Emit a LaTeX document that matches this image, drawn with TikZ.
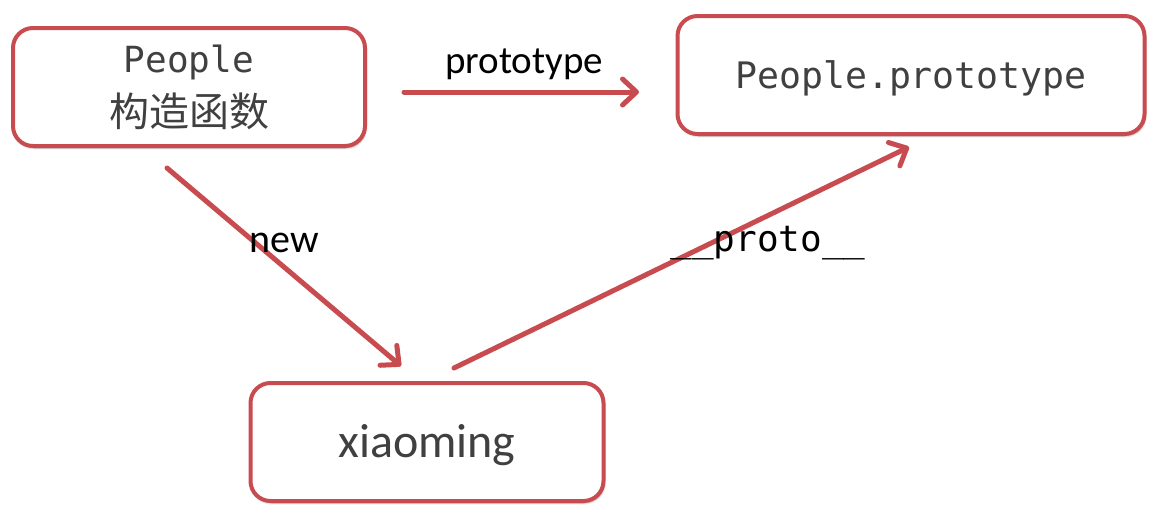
\documentclass[tikz,border=0pt]{standalone}
\usepackage{fontspec}
\setmainfont{Carlito}
\setmonofont{DejaVu Sans Mono}
\newfontfamily\cjk{Noto Sans CJK SC}
\usetikzlibrary{arrows.meta,shadows.blur}
\definecolor{boxred}{RGB}{200,75,80}
\definecolor{txtgray}{RGB}{64,64,64}
\tikzset{
  box/.style={draw=boxred, line width=4pt, fill=white, rounded corners=20pt,
    rectangle, minimum height=118pt, align=center, text=txtgray,
    blur shadow={shadow blur steps=6, shadow xshift=1pt, shadow yshift=-2pt, shadow opacity=35}},
  arr/.style={draw=boxred, line width=5pt, line cap=round,
    -{Straight Barb[length=14pt, width=26pt, line cap=round, line join=round]}},
  lbl/.style={text=black, inner sep=0pt}
}
\begin{document}
\begin{tikzpicture}[x=1pt,y=-1pt]
\useasboundingbox (0,0) rectangle (1162,517);
\node[box, minimum width=352pt, font=\fontsize{36}{44}\selectfont] (ctor) at (189,87)
  {\ttfamily People\\[10pt]{\fontsize{40}{44}\selectfont\cjk 构造函数}};
\node[box, minimum width=467pt, text height=36pt, text depth=9pt] (proto) at (911,75)
  {\fontsize{36.5}{44}\selectfont\ttfamily People.prototype};
\node[box, minimum width=353pt, text height=40pt, text depth=10pt] (xm) at (427,442)
  {\fontsize{48}{52}\selectfont xiaoming};
\coordinate (p1) at (404,92);
\coordinate (p2) at (639,92);
\coordinate (n1) at (167,168);
\coordinate (n2) at (401,366);
\coordinate (q1) at (454,368);
\coordinate (q2) at (909,147);
\draw[arr] (p1) -- (p2);
\draw[arr] (n1) -- (n2);
\draw[arr] (q1) -- (q2);
\node[lbl, font=\fontsize{39}{42}\selectfont] (lp) at (524,64) {prototype};
\node[lbl, font=\fontsize{40}{44}\selectfont] (ln) at (284,243) {new};
\node[lbl, font=\fontsize{36}{40}\selectfont\ttfamily] (lq) at (768,243) {\_\_proto\_\_};
\end{tikzpicture}
\end{document}
